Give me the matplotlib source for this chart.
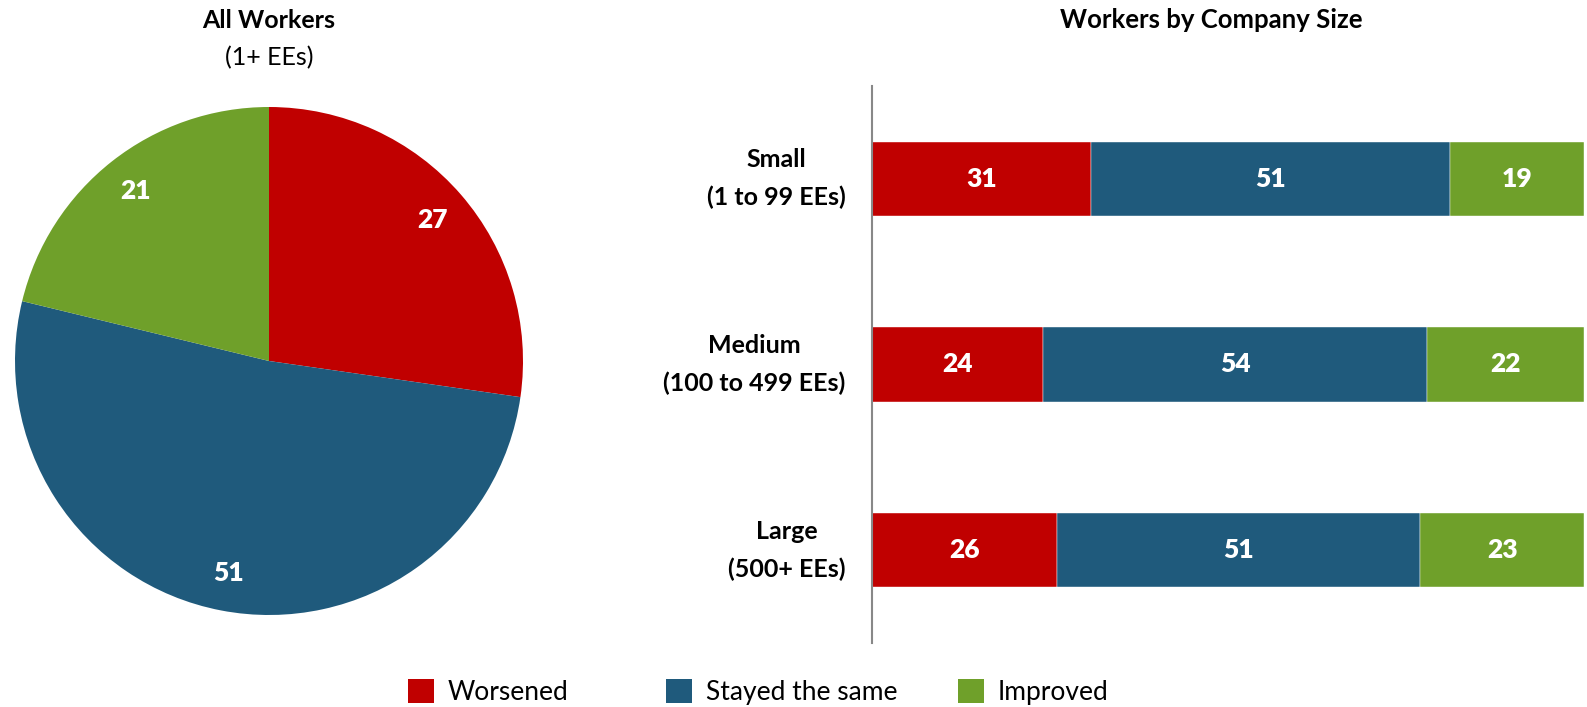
import matplotlib.pyplot as plt
from matplotlib.patches import Patch

plt.rcParams['font.family'] = ['Lato', 'DejaVu Sans']

responses = ['Worsened', 'Stayed the same', 'Improved']
colors = ['#C00000', '#1F5A7C', '#6FA02A']

all_workers = [27, 51, 21]

sizes = ['Small\n(1 to 99 EEs)', 'Medium\n(100 to 499 EEs)', 'Large\n(500+ EEs)']
worsened = [31, 24, 26]
same = [51, 54, 51]
improved = [19, 22, 23]

fig = plt.figure(figsize=(15.87, 7.07), dpi=100)

# pie
W, H = 1587, 707
cx, cy, r = 269, 361, 254
ax_pie = fig.add_axes([(cx - r) / W, 1 - (cy + r) / H, 2 * r / W, 2 * r / H])
wedges, texts = ax_pie.pie(all_workers, colors=colors, startangle=90, counterclock=False,
                           labels=[str(v) for v in all_workers], labeldistance=0.85,
                           wedgeprops=dict(linewidth=0),
                           textprops=dict(color='white', fontsize=19, fontweight='heavy'))
for t in texts:
    t.set_ha('center')
    t.set_va('center')
ax_pie.set_xlim(-1, 1)
ax_pie.set_ylim(-1, 1)
ax_pie.set_aspect('equal')
fig.text(269 / W, 1 - 20 / H, 'All Workers', ha='center', va='center', fontsize=18, fontweight='bold')
fig.text(269 / W, 1 - 58 / H, '(1+ EEs)', ha='center', va='center', fontsize=18)

# stacked bars
ax = fig.add_axes([872 / W, 1 - 643 / H, (1584 - 872) / W, (643 - 86) / H])
ypos = range(len(sizes))
left = [0] * len(sizes)
totals = [w + s + i for w, s, i in zip(worsened, same, improved)]
for vals, col in zip([worsened, same, improved], colors):
    widths = [v / t * 100 for v, t in zip(vals, totals)]
    bars = ax.barh(ypos, widths, left=left, color=col, height=0.4, edgecolor='white', linewidth=0.3)
    for b, v in zip(bars, vals):
        ax.text(b.get_x() + b.get_width() / 2, b.get_y() + b.get_height() / 2, str(v),
                ha='center', va='center', color='white', fontsize=19, fontweight='heavy')
    left = [l + w for l, w in zip(left, widths)]
ax.set_xlim(0, 100)
ax.set_ylim(2.5, -0.5)
ax.set_yticks(list(ypos))
ax.set_yticklabels(sizes, fontsize=18, fontweight='bold', ha='right', va='center',
                   multialignment='center', linespacing=1.75)
ax.tick_params(axis='y', length=0, pad=19)
ax.set_xticks([])
for s in ['top', 'right', 'bottom']:
    ax.spines[s].set_visible(False)
ax.spines['left'].set_color('#888888')
ax.spines['left'].set_linewidth(1.5)
fig.text(1211 / W, 1 - 20 / H, 'Workers by Company Size', ha='center', va='center',
         fontsize=18.5, fontweight='bold')

# legend, one entry at a time to match the uneven spacing
legend_x = [408, 666, 958]
for c, l, x in zip(colors, responses, legend_x):
    fig.legend(handles=[Patch(facecolor=c, label=l)], loc='center left',
               bbox_to_anchor=(x / W, 1 - 692 / H), frameon=False, fontsize=19,
               handlelength=1.0, handleheight=1.0, handletextpad=0.5,
               borderpad=0, borderaxespad=0)

fig.savefig('out.png', dpi=100)
